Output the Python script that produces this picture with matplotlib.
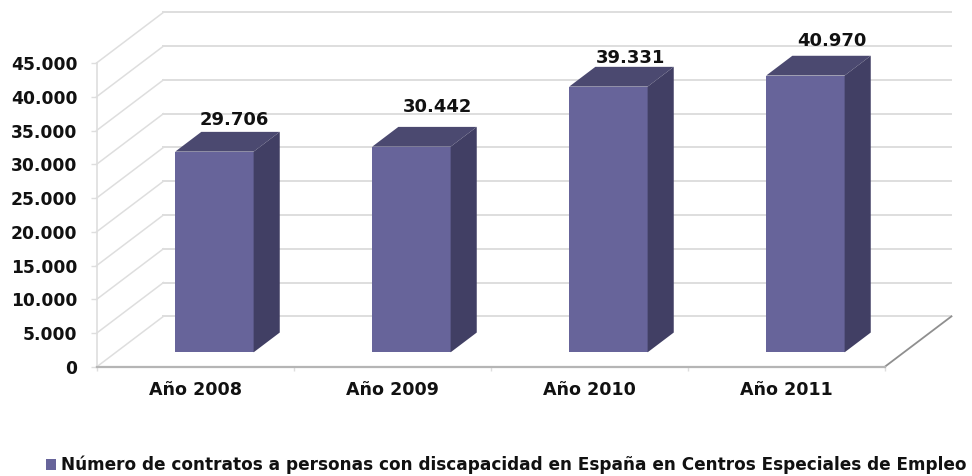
import matplotlib
matplotlib.use('Agg')
import matplotlib.pyplot as plt
from matplotlib.patches import Polygon

# datos
years = ['Año 2008', 'Año 2009', 'Año 2010', 'Año 2011']
contracts = [29706, 30442, 39331, 40970]
value_labels = ['29.706', '30.442', '39.331', '40.970']
y_ticks = [0, 5000, 10000, 15000, 20000, 25000, 30000, 35000, 40000, 45000]
y_tick_labels = ['0', '5.000', '10.000', '15.000', '20.000', '25.000', '30.000', '35.000', '40.000', '45.000']
legend_label = 'Número de contratos a personas con discapacidad en España en Centros Especiales de Empleo'

# ajuste a mano de las etiquetas (pixeles)
label_nudge_x = [20, 26, 22, 26]
label_nudge_y = [32, 40, 29, 35]

# profundidad de la perspectiva, en unidades de los ejes
DEPTH_X = 0.34
DEPTH_Y = 7500
BAR_WIDTH = 0.398
BAR_D0 = 0.29
BAR_D1 = 0.68

FRONT = '#67649a'
TOP = '#4b4970'
SIDE = '#413f64'
GRID = '#dedede'
TEXT = '#111111'

plt.rcParams['font.family'] = ['DejaVu Sans']
plt.rcParams['font.weight'] = 'bold'

fig = plt.figure(figsize=(9.72, 4.76), dpi=100)
ax = fig.add_axes([96.5 / 972, (476 - 367) / 476, 788 / 972, 304 / 476])
ax.set_xlim(0, 4)
ax.set_ylim(0, 45000)

# paredes: lineas del fondo y diagonales de la izquierda
for t in y_ticks:
    ax.plot([DEPTH_X, 4 + DEPTH_X], [t + DEPTH_Y, t + DEPTH_Y], color=GRID, lw=1.4, clip_on=False, zorder=1)
    ax.plot([0, DEPTH_X], [t, t + DEPTH_Y], color=GRID, lw=1.1, clip_on=False, zorder=1)
ax.plot([4, 4 + DEPTH_X], [0, DEPTH_Y], color='#8f8f8f', lw=1.3, clip_on=False, zorder=1)

# barras en perspectiva
for i, v in enumerate(contracts):
    c = i + 0.5
    x0 = c - BAR_WIDTH / 2 + BAR_D0 * DEPTH_X
    x1 = x0 + BAR_WIDTH
    y0 = BAR_D0 * DEPTH_Y
    dx = (BAR_D1 - BAR_D0) * DEPTH_X
    dy = (BAR_D1 - BAR_D0) * DEPTH_Y
    ax.bar(x0, v, width=BAR_WIDTH, bottom=y0, align='edge', color=FRONT, clip_on=False, zorder=3,
           label=legend_label if i == 0 else None)
    ax.add_patch(Polygon([(x0, y0 + v), (x1, y0 + v), (x1 + dx, y0 + v + dy), (x0 + dx, y0 + v + dy)],
                         facecolor=TOP, edgecolor='none', clip_on=False, zorder=3))
    ax.add_patch(Polygon([(x1, y0), (x1 + dx, y0 + dy), (x1 + dx, y0 + v + dy), (x1, y0 + v)],
                         facecolor=SIDE, edgecolor='none', clip_on=False, zorder=3))
    ax.annotate(value_labels[i], xy=((x0 + x1) / 2, y0 + v), xytext=(label_nudge_x[i], label_nudge_y[i]),
                textcoords='offset pixels', ha='center', va='center', fontsize=13, color=TEXT,
                annotation_clip=False, zorder=4)

for s in ['top', 'right']:
    ax.spines[s].set_visible(False)
ax.spines['left'].set_color(GRID)
ax.spines['left'].set_linewidth(1.2)
ax.spines['bottom'].set_color('#b5b5b5')
ax.spines['bottom'].set_linewidth(1.6)

ax.set_yticks(y_ticks)
ax.set_yticklabels(y_tick_labels)
ax.tick_params(axis='y', length=4.5, width=1, color=GRID, pad=9.2, labelsize=12.3, labelcolor=TEXT)

# las etiquetas de categoria van centradas en cada tramo
ax.set_xticks([0, 1, 2, 3, 4])
ax.set_xticklabels([])
ax.set_xticks([0.5, 1.5, 2.5, 3.5], minor=True)
ax.set_xticklabels(years, minor=True)
ax.tick_params(axis='x', which='major', length=3, width=1, color=GRID)
ax.tick_params(axis='x', which='minor', length=0, pad=10, labelsize=12.6, labelcolor=TEXT)

ax.legend(loc='lower left', bbox_to_anchor=(40 / 972, -4 / 476), bbox_transform=fig.transFigure, frameon=False,
          fontsize=12.13, handlelength=0.62, handleheight=0.62, handletextpad=0.3, labelcolor=TEXT,
          borderaxespad=0, borderpad=0.35)

fig.savefig('out.png', dpi=100)
